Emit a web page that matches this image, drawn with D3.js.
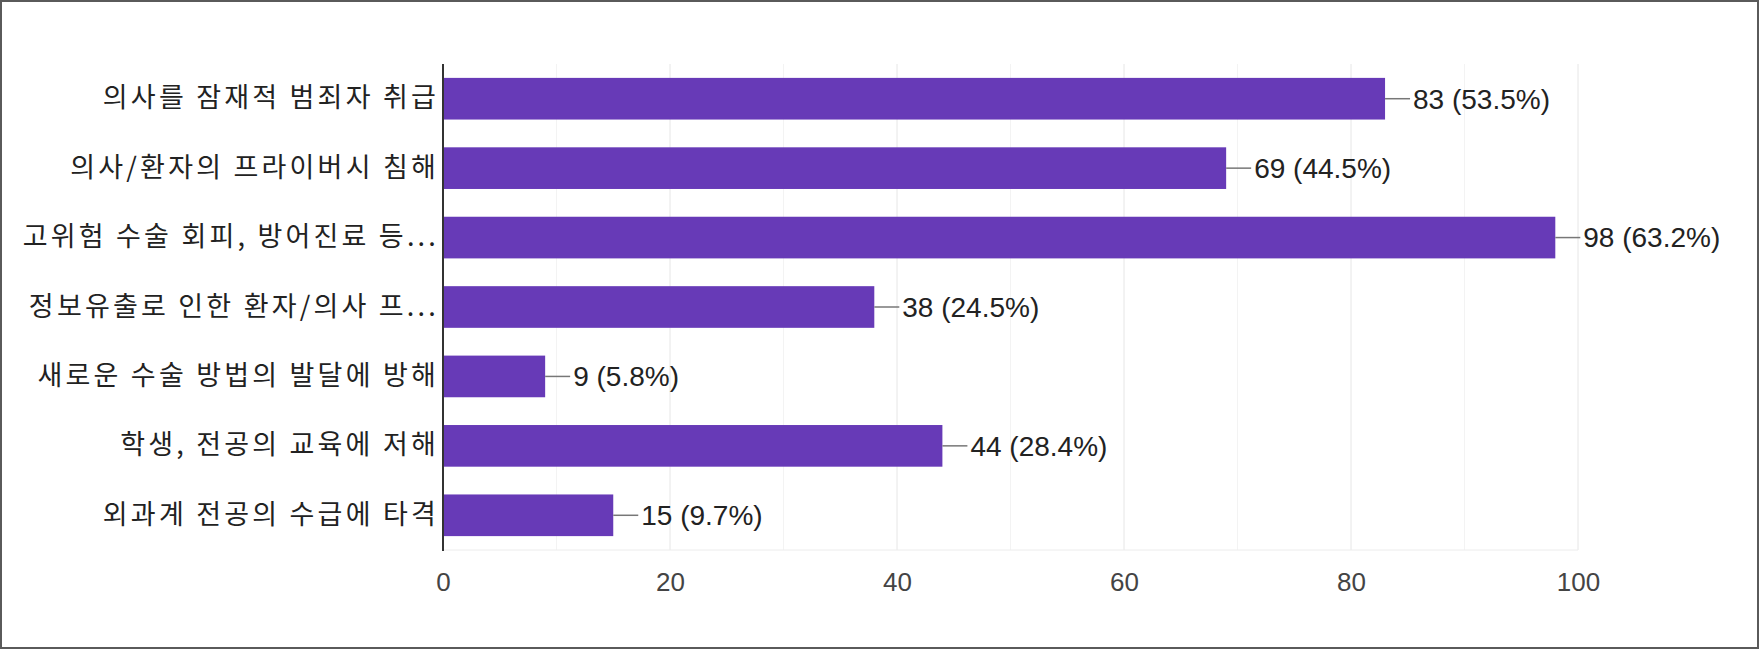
<!DOCTYPE html>
<html>
<head>
<meta charset="utf-8">
<script src="https://cdn.jsdelivr.net/npm/d3@7"></script>
<style>
  html, body { margin: 0; padding: 0; background: #fff; }
  svg { display: block; }
</style>
</head>
<body>
<svg id="chart" width="1760" height="650"></svg>
<script>
const categories = [
  "의사를 잠재적 범죄자 취급",
  "의사/환자의 프라이버시 침해",
  "고위험 수술 회피, 방어진료 등...",
  "정보유출로 인한 환자/의사 프...",
  "새로운 수술 방법의 발달에 방해",
  "학생, 전공의 교육에 저해",
  "외과계 전공의 수급에 타격"
];
const counts = [83, 69, 98, 38, 9, 44, 15];
const percents = ["53.5%", "44.5%", "63.2%", "24.5%", "5.8%", "28.4%", "9.7%"];
const xTicks = [0, 20, 40, 60, 80, 100];
const minorTicks = [10, 30, 50, 70, 90];

(function () {
const svg = d3.select("#chart");
const W = 1760, H = 650;

// outer frame
svg.append("rect")
  .attr("x", 1).attr("y", 1).attr("width", W - 3).attr("height", H - 3)
  .attr("fill", "#fff").attr("stroke", "#5a5a5a").attr("stroke-width", 2);

const pLeft = 443, pRight = 1578, pTop = 64, pBottom = 550;

const x = d3.scaleLinear().domain([0, 100]).range([pLeft, pRight]);
const y = d3.scaleBand().domain(categories).range([pTop, pBottom])
  .paddingInner(0.4).paddingOuter(0.2);

// gridlines
svg.append("g").selectAll("line").data(minorTicks).join("line")
  .attr("x1", d => x(d)).attr("x2", d => x(d))
  .attr("y1", pTop).attr("y2", pBottom)
  .attr("stroke", "#f3f3f3").attr("stroke-width", 1);
svg.append("g").selectAll("line").data(xTicks.slice(1)).join("line")
  .attr("x1", d => x(d)).attr("x2", d => x(d))
  .attr("y1", pTop).attr("y2", pBottom)
  .attr("stroke", "#e6e6e6").attr("stroke-width", 1);
// baseline
svg.append("line")
  .attr("x1", x(0)).attr("x2", x(100)).attr("y1", pBottom).attr("y2", pBottom)
  .attr("stroke", "#ececec").attr("stroke-width", 1);

// x axis labels
const xAxis = d3.axisBottom(x).tickValues(xTicks).tickSize(0).tickPadding(0);
const gx = svg.append("g").attr("transform", `translate(0,${pBottom})`).call(xAxis);
gx.select(".domain").remove();
gx.selectAll("text")
  .attr("y", 32).attr("dy", "0.35em")
  .attr("font-family", "'Liberation Sans', Arial, sans-serif")
  .attr("font-size", 26).attr("fill", "#444");

// bars
svg.append("g").selectAll("rect").data(categories).join("rect")
  .attr("x", x(0))
  .attr("y", d => y(d))
  .attr("width", (d, i) => x(counts[i]) - x(0))
  .attr("height", y.bandwidth())
  .attr("fill", "#673ab7");

// y axis labels
const yAxis = d3.axisLeft(y).tickSize(0).tickPadding(4);
const gy = svg.append("g").attr("transform", `translate(${pLeft},0)`).call(yAxis);
gy.select(".domain").remove();
gy.selectAll("text")
  .attr("font-family", "'Noto Sans CJK KR', sans-serif")
  .attr("font-size", 27).attr("letter-spacing", "3.2px").attr("fill", "#222");

// axis line
svg.append("line")
  .attr("x1", pLeft).attr("x2", pLeft).attr("y1", pTop).attr("y2", pBottom + 1)
  .attr("stroke", "#333").attr("stroke-width", 2);

// annotations
const ann = svg.append("g");
categories.forEach((c, i) => {
  const cy = y(c) + y.bandwidth() / 2;
  const bx = x(counts[i]);
  ann.append("line")
    .attr("x1", bx).attr("x2", bx + 25).attr("y1", cy).attr("y2", cy)
    .attr("stroke", "#777").attr("stroke-width", 1.5);
  ann.append("text")
    .attr("x", bx + 28).attr("y", cy).attr("dy", "0.35em")
    .attr("font-family", "'Liberation Sans', Arial, sans-serif")
    .attr("font-size", 28).attr("fill", "#222")
    .text(`${counts[i]} (${percents[i]})`);
});
})();
</script>
</body>
</html>
